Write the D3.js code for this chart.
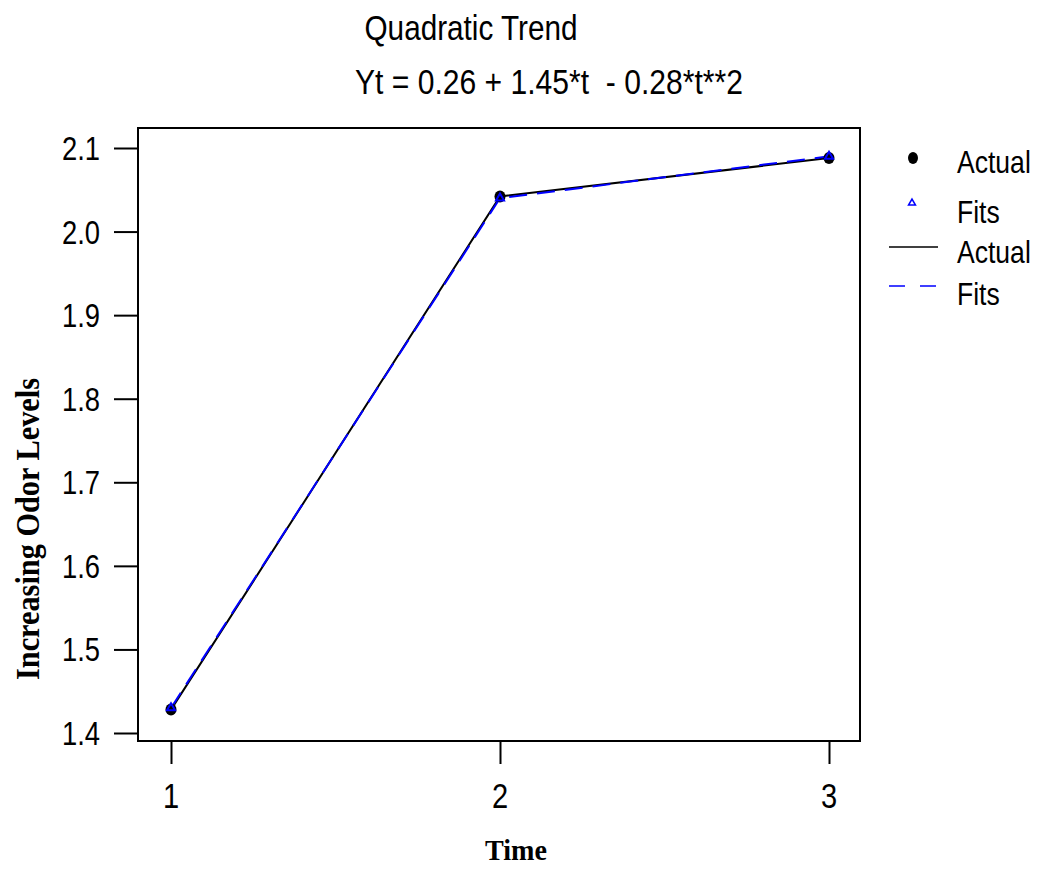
<!DOCTYPE html>
<html>
<head>
<meta charset="utf-8">
<script src="https://cdn.jsdelivr.net/npm/d3@7"></script>
<style>
  body { margin: 0; background: #fff; }
  svg { display: block; }
</style>
</head>
<body>
<svg id="chart"></svg>
<script>
const width = 1037;
const height = 873;

// data
const times = [1, 2, 3];
const actual = [1.428, 2.042, 2.088];
const fits = [1.430, 2.040, 2.090];
const xTicks = [1, 2, 3];
const yTicks = [1.4, 1.5, 1.6, 1.7, 1.8, 1.9, 2.0, 2.1];
const legendItems = ["Actual", "Fits", "Actual", "Fits"];

const sans = "'Liberation Sans', Arial, sans-serif";
const serif = "'Liberation Serif', 'Times New Roman', serif";
const squeeze = 0.83;

const frame = { left: 138, top: 128, right: 860, bottom: 741 };

const svg = d3.select("#chart")
    .attr("width", width)
    .attr("height", height);

const x = d3.scaleLinear().domain([1, 3]).range([171, 829]);
const y = d3.scaleLinear().domain([1.4, 2.1]).range([733, 148]);

// squeezed text helper (the reference uses narrow type)
function label(g, tx, ty, str, size, anchor, family, weight, rot) {
    const t = g.append("g")
        .attr("transform", "translate(" + tx + "," + ty + ")" + (rot ? " rotate(" + rot + ")" : "") + " scale(" + squeeze + ",1)")
        .append("text")
        .attr("text-anchor", anchor)
        .style("font-family", family || sans)
        .style("font-size", size + "px")
        .style("font-weight", weight || "normal")
        .attr("fill", "#000")
        .text(str);
    return t;
}

// fixed-width text, for titles
function wideText(g, tx, ty, str, size, w, family, weight, rot) {
    return g.append("text")
        .attr("transform", "translate(" + tx + "," + ty + ")" + (rot ? " rotate(" + rot + ")" : ""))
        .attr("text-anchor", "middle")
        .attr("textLength", w)
        .attr("lengthAdjust", "spacingAndGlyphs")
        .attr("xml:space", "preserve")
        .style("font-family", family || sans)
        .style("font-size", size + "px")
        .style("font-weight", weight || "normal")
        .attr("fill", "#000")
        .text(str);
}

// titles
wideText(svg, 471, 40, "Quadratic Trend", 35, 213);
wideText(svg, 549, 94, "Yt = 0.26 + 1.45*t  - 0.28*t**2", 35, 388);

// frame
svg.append("rect")
    .attr("x", frame.left)
    .attr("y", frame.top)
    .attr("width", frame.right - frame.left)
    .attr("height", frame.bottom - frame.top)
    .attr("fill", "none")
    .attr("stroke", "#000")
    .attr("stroke-width", 2);

// y axis
const yAxis = d3.axisLeft(y)
    .tickValues(yTicks)
    .tickSize(24)
    .tickPadding(0)
    .tickFormat(d3.format(".1f"));

const yg = svg.append("g")
    .attr("transform", "translate(" + frame.left + ",0)")
    .call(yAxis);
yg.select(".domain").remove();
yg.selectAll(".tick line").attr("stroke", "#000").attr("stroke-width", 2);
yg.selectAll(".tick text").remove();
yTicks.forEach(function (v) {
    label(svg, 100, y(v) + 12, d3.format(".1f")(v), 33, "end");
});

// x axis
const xAxis = d3.axisBottom(x)
    .tickValues(xTicks)
    .tickSize(22)
    .tickFormat(d3.format("d"));

const xg = svg.append("g")
    .attr("transform", "translate(0," + (frame.bottom + 1) + ")")
    .call(xAxis);
xg.select(".domain").remove();
xg.selectAll(".tick line").attr("stroke", "#000").attr("stroke-width", 2);
xg.selectAll(".tick text").remove();
xTicks.forEach(function (v) {
    label(svg, x(v), 808, String(v), 35, "middle");
});

// axis titles
wideText(svg, 516, 860, "Time", 29, 62, serif, "bold");
wideText(svg, 39, 529, "Increasing Odor Levels", 34, 302, serif, "bold", -90);

// lines
const lineA = d3.line()
    .x(function (d, i) { return x(times[i]); })
    .y(function (d) { return y(d); });

svg.append("path")
    .datum(actual)
    .attr("d", lineA)
    .attr("fill", "none")
    .attr("stroke", "#000")
    .attr("stroke-width", 2);

svg.append("path")
    .datum(fits)
    .attr("d", lineA)
    .attr("fill", "none")
    .attr("stroke", "#0000ff")
    .attr("stroke-width", 2)
    .attr("stroke-dasharray", "18,10");

// markers
svg.selectAll(".actual-pt")
    .data(actual)
    .enter().append("ellipse")
    .attr("class", "actual-pt")
    .attr("cx", function (d, i) { return x(times[i]); })
    .attr("cy", function (d) { return y(d); })
    .attr("rx", 5.5)
    .attr("ry", 6)
    .attr("fill", "#000");

const tri = d3.symbol().type(d3.symbolTriangle).size(28);
svg.selectAll(".fit-pt")
    .data(fits)
    .enter().append("path")
    .attr("class", "fit-pt")
    .attr("transform", function (d, i) { return "translate(" + x(times[i]) + "," + y(d) + ")"; })
    .attr("d", tri)
    .attr("fill", "none")
    .attr("stroke", "#0000ff")
    .attr("stroke-width", 2);

// legend
const leg = svg.append("g");
const legRows = [173, 223, 263, 305];
leg.append("ellipse")
    .attr("cx", 913).attr("cy", 158)
    .attr("rx", 5).attr("ry", 6)
    .attr("fill", "#000");
leg.append("path")
    .attr("transform", "translate(912,203)")
    .attr("d", d3.symbol().type(d3.symbolTriangle).size(20))
    .attr("fill", "none")
    .attr("stroke", "#0000ff")
    .attr("stroke-width", 1.6);
leg.append("line")
    .attr("x1", 889).attr("x2", 938)
    .attr("y1", 247).attr("y2", 247)
    .attr("stroke", "#000").attr("stroke-width", 1.6);
leg.append("line")
    .attr("x1", 889).attr("x2", 938)
    .attr("y1", 286).attr("y2", 286)
    .attr("stroke", "#0000ff").attr("stroke-width", 1.6)
    .attr("stroke-dasharray", "16,15");
legendItems.forEach(function (s, i) {
    label(leg, 957, legRows[i], s, 32, "start");
});
</script>
</body>
</html>
